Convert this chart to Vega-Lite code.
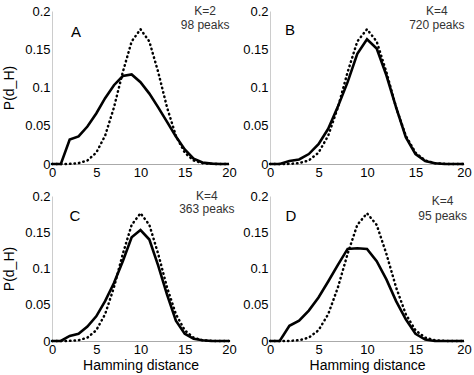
{
  "$schema": "https://vega.github.io/schema/vega-lite/v6.json",
  "autosize": {"type": "pad"},
  "padding": {"left": 2, "top": 5, "right": 5, "bottom": 5},
  "background": "white",
  "datasets": {
    "binom": [
      {"x": 0, "y": 0.000001}, {"x": 1, "y": 0.000019}, {"x": 2, "y": 0.000181}, {"x": 3, "y": 0.001087},
      {"x": 4, "y": 0.004621}, {"x": 5, "y": 0.014786}, {"x": 6, "y": 0.036964}, {"x": 7, "y": 0.073929},
      {"x": 8, "y": 0.120134}, {"x": 9, "y": 0.160179}, {"x": 10, "y": 0.176197}, {"x": 11, "y": 0.160179},
      {"x": 12, "y": 0.120134}, {"x": 13, "y": 0.073929}, {"x": 14, "y": 0.036964}, {"x": 15, "y": 0.014786},
      {"x": 16, "y": 0.004621}, {"x": 17, "y": 0.001087}, {"x": 18, "y": 0.000181}, {"x": 19, "y": 0.000019},
      {"x": 20, "y": 0.000001}
    ],
    "obs": [
      {"panel": "A", "x": 0, "y": 0}, {"panel": "A", "x": 1, "y": 0}, {"panel": "A", "x": 2, "y": 0.032}, {"panel": "A", "x": 3, "y": 0.036},
      {"panel": "A", "x": 4, "y": 0.049}, {"panel": "A", "x": 5, "y": 0.066}, {"panel": "A", "x": 6, "y": 0.086}, {"panel": "A", "x": 7, "y": 0.103},
      {"panel": "A", "x": 8, "y": 0.115}, {"panel": "A", "x": 9, "y": 0.117}, {"panel": "A", "x": 10, "y": 0.107}, {"panel": "A", "x": 11, "y": 0.092},
      {"panel": "A", "x": 12, "y": 0.074}, {"panel": "A", "x": 13, "y": 0.055}, {"panel": "A", "x": 14, "y": 0.036}, {"panel": "A", "x": 15, "y": 0.019},
      {"panel": "A", "x": 16, "y": 0.007}, {"panel": "A", "x": 17, "y": 0.002}, {"panel": "A", "x": 18, "y": 0.0005}, {"panel": "A", "x": 19, "y": 0},
      {"panel": "A", "x": 20, "y": 0},
      {"panel": "B", "x": 0, "y": 0}, {"panel": "B", "x": 1, "y": 0}, {"panel": "B", "x": 2, "y": 0.004}, {"panel": "B", "x": 3, "y": 0.006},
      {"panel": "B", "x": 4, "y": 0.013}, {"panel": "B", "x": 5, "y": 0.026}, {"panel": "B", "x": 6, "y": 0.046}, {"panel": "B", "x": 7, "y": 0.075},
      {"panel": "B", "x": 8, "y": 0.107}, {"panel": "B", "x": 9, "y": 0.144}, {"panel": "B", "x": 10, "y": 0.163}, {"panel": "B", "x": 11, "y": 0.151},
      {"panel": "B", "x": 12, "y": 0.116}, {"panel": "B", "x": 13, "y": 0.074}, {"panel": "B", "x": 14, "y": 0.035}, {"panel": "B", "x": 15, "y": 0.013},
      {"panel": "B", "x": 16, "y": 0.004}, {"panel": "B", "x": 17, "y": 0.001}, {"panel": "B", "x": 18, "y": 0}, {"panel": "B", "x": 19, "y": 0},
      {"panel": "B", "x": 20, "y": 0},
      {"panel": "C", "x": 0, "y": 0}, {"panel": "C", "x": 1, "y": 0}, {"panel": "C", "x": 2, "y": 0.007}, {"panel": "C", "x": 3, "y": 0.01},
      {"panel": "C", "x": 4, "y": 0.02}, {"panel": "C", "x": 5, "y": 0.034}, {"panel": "C", "x": 6, "y": 0.055}, {"panel": "C", "x": 7, "y": 0.08},
      {"panel": "C", "x": 8, "y": 0.11}, {"panel": "C", "x": 9, "y": 0.143}, {"panel": "C", "x": 10, "y": 0.153}, {"panel": "C", "x": 11, "y": 0.14},
      {"panel": "C", "x": 12, "y": 0.104}, {"panel": "C", "x": 13, "y": 0.064}, {"panel": "C", "x": 14, "y": 0.028}, {"panel": "C", "x": 15, "y": 0.01},
      {"panel": "C", "x": 16, "y": 0.003}, {"panel": "C", "x": 17, "y": 0.001}, {"panel": "C", "x": 18, "y": 0}, {"panel": "C", "x": 19, "y": 0},
      {"panel": "C", "x": 20, "y": 0},
      {"panel": "D", "x": 0, "y": 0}, {"panel": "D", "x": 1, "y": 0}, {"panel": "D", "x": 2, "y": 0.021}, {"panel": "D", "x": 3, "y": 0.028},
      {"panel": "D", "x": 4, "y": 0.042}, {"panel": "D", "x": 5, "y": 0.06}, {"panel": "D", "x": 6, "y": 0.082}, {"panel": "D", "x": 7, "y": 0.105},
      {"panel": "D", "x": 8, "y": 0.127}, {"panel": "D", "x": 9, "y": 0.128}, {"panel": "D", "x": 10, "y": 0.127}, {"panel": "D", "x": 11, "y": 0.11},
      {"panel": "D", "x": 12, "y": 0.085}, {"panel": "D", "x": 13, "y": 0.055}, {"panel": "D", "x": 14, "y": 0.03}, {"panel": "D", "x": 15, "y": 0.01},
      {"panel": "D", "x": 16, "y": 0.002}, {"panel": "D", "x": 17, "y": 0}, {"panel": "D", "x": 18, "y": 0}, {"panel": "D", "x": 19, "y": 0},
      {"panel": "D", "x": 20, "y": 0}
    ],
    "notes": [
      {"panel": "A", "kind": "letter", "x": 2.7, "y": 0.1725, "label": "A"},
      {"panel": "A", "kind": "info", "x": 17.3, "y": 0.2, "label": "K=2"},
      {"panel": "A", "kind": "info", "x": 17.3, "y": 0.182, "label": "98 peaks"},
      {"panel": "B", "kind": "letter", "x": 2.06, "y": 0.175, "label": "B"},
      {"panel": "B", "kind": "info", "x": 17.2, "y": 0.2, "label": "K=4"},
      {"panel": "B", "kind": "info", "x": 17.2, "y": 0.182, "label": "720 peaks"},
      {"panel": "C", "kind": "letter", "x": 2.6, "y": 0.172, "label": "C"},
      {"panel": "C", "kind": "info", "x": 17.5, "y": 0.2, "label": "K=4"},
      {"panel": "C", "kind": "info", "x": 17.5, "y": 0.182, "label": "363 peaks"},
      {"panel": "D", "kind": "letter", "x": 2.15, "y": 0.172, "label": "D"},
      {"panel": "D", "kind": "info", "x": 17.8, "y": 0.193, "label": "K=4"},
      {"panel": "D", "kind": "info", "x": 17.8, "y": 0.172, "label": "95 peaks"}
    ]
  },
  "bounds": "flush",
  "columns": 2,
  "spacing": {"row": 32, "column": 41},
  "concat": [
    {
      "width": 177, "height": 153,
      "encoding": {
        "x": {"field": "x", "type": "quantitative", "scale": {"domain": [0, 20], "nice": false}, "axis": {"values": [0, 5, 10, 15, 20], "format": "d", "labelFlush": false, "title": null}},
        "y": {"field": "y", "type": "quantitative", "scale": {"domain": [0, 0.2], "nice": false}, "axis": {"values": [0, 0.05, 0.1, 0.15, 0.2], "format": "~g", "title": "P(d_H)"}}
      },
      "layer": [
        {"data": {"name": "binom"}, "mark": {"type": "line", "color": "black", "strokeWidth": 2.5, "strokeDash": [0.5, 4], "strokeCap": "round"}},
        {"data": {"name": "obs"}, "transform": [{"filter": "datum.panel === 'A'"}], "mark": {"type": "line", "color": "black", "strokeWidth": 2.6}},
        {"data": {"name": "notes"}, "transform": [{"filter": "datum.panel === 'A' && datum.kind === 'letter'"}], "mark": {"type": "text", "fontSize": 15, "color": "black"}, "encoding": {"text": {"field": "label"}}},
        {"data": {"name": "notes"}, "transform": [{"filter": "datum.panel === 'A' && datum.kind === 'info'"}], "mark": {"type": "text", "fontSize": 12, "color": "#333"}, "encoding": {"text": {"field": "label"}}}
      ]
    },
    {
      "width": 194, "height": 153,
      "encoding": {
        "x": {"field": "x", "type": "quantitative", "scale": {"domain": [0, 20], "nice": false}, "axis": {"values": [0, 5, 10, 15, 20], "format": "d", "labelFlush": false, "title": null}},
        "y": {"field": "y", "type": "quantitative", "scale": {"domain": [0, 0.2], "nice": false}, "axis": {"values": [0, 0.05, 0.1, 0.15, 0.2], "format": "~g", "title": null}}
      },
      "layer": [
        {"data": {"name": "binom"}, "mark": {"type": "line", "color": "black", "strokeWidth": 2.5, "strokeDash": [0.5, 4], "strokeCap": "round"}},
        {"data": {"name": "obs"}, "transform": [{"filter": "datum.panel === 'B'"}], "mark": {"type": "line", "color": "black", "strokeWidth": 2.6}},
        {"data": {"name": "notes"}, "transform": [{"filter": "datum.panel === 'B' && datum.kind === 'letter'"}], "mark": {"type": "text", "fontSize": 15, "color": "black"}, "encoding": {"text": {"field": "label"}}},
        {"data": {"name": "notes"}, "transform": [{"filter": "datum.panel === 'B' && datum.kind === 'info'"}], "mark": {"type": "text", "fontSize": 12, "color": "#333"}, "encoding": {"text": {"field": "label"}}}
      ]
    },
    {
      "width": 177, "height": 145,
      "encoding": {
        "x": {"field": "x", "type": "quantitative", "scale": {"domain": [0, 20], "nice": false}, "axis": {"values": [0, 5, 10, 15, 20], "format": "d", "labelFlush": false, "title": "Hamming distance"}},
        "y": {"field": "y", "type": "quantitative", "scale": {"domain": [0, 0.2], "nice": false}, "axis": {"values": [0, 0.05, 0.1, 0.15, 0.2], "format": "~g", "title": "P(d_H)"}}
      },
      "layer": [
        {"data": {"name": "binom"}, "mark": {"type": "line", "color": "black", "strokeWidth": 2.5, "strokeDash": [0.5, 4], "strokeCap": "round"}},
        {"data": {"name": "obs"}, "transform": [{"filter": "datum.panel === 'C'"}], "mark": {"type": "line", "color": "black", "strokeWidth": 2.6}},
        {"data": {"name": "notes"}, "transform": [{"filter": "datum.panel === 'C' && datum.kind === 'letter'"}], "mark": {"type": "text", "fontSize": 15, "color": "black"}, "encoding": {"text": {"field": "label"}}},
        {"data": {"name": "notes"}, "transform": [{"filter": "datum.panel === 'C' && datum.kind === 'info'"}], "mark": {"type": "text", "fontSize": 12, "color": "#333"}, "encoding": {"text": {"field": "label"}}}
      ]
    },
    {
      "width": 194, "height": 145,
      "encoding": {
        "x": {"field": "x", "type": "quantitative", "scale": {"domain": [0, 20], "nice": false}, "axis": {"values": [0, 5, 10, 15, 20], "format": "d", "labelFlush": false, "title": "Hamming distance"}},
        "y": {"field": "y", "type": "quantitative", "scale": {"domain": [0, 0.2], "nice": false}, "axis": {"values": [0, 0.05, 0.1, 0.15, 0.2], "format": "~g", "title": null}}
      },
      "layer": [
        {"data": {"name": "binom"}, "mark": {"type": "line", "color": "black", "strokeWidth": 2.5, "strokeDash": [0.5, 4], "strokeCap": "round"}},
        {"data": {"name": "obs"}, "transform": [{"filter": "datum.panel === 'D'"}], "mark": {"type": "line", "color": "black", "strokeWidth": 2.6}},
        {"data": {"name": "notes"}, "transform": [{"filter": "datum.panel === 'D' && datum.kind === 'letter'"}], "mark": {"type": "text", "fontSize": 15, "color": "black"}, "encoding": {"text": {"field": "label"}}},
        {"data": {"name": "notes"}, "transform": [{"filter": "datum.panel === 'D' && datum.kind === 'info'"}], "mark": {"type": "text", "fontSize": 12, "color": "#333"}, "encoding": {"text": {"field": "label"}}}
      ]
    }
  ],
  "config": {
    "font": "Liberation Sans",
    "view": {"stroke": null},
    "axis": {
      "grid": false,
      "ticks": false,
      "labelFont": "Liberation Sans",
      "labelFontSize": 13,
      "labelColor": "black",
      "labelPadding": 2,
      "titleFont": "Liberation Sans",
      "titleFontSize": 14,
      "titleFontWeight": "normal",
      "titleColor": "black",
      "titlePadding": 2,
      "domainColor": "#bbbbbb",
      "domainWidth": 1
    },
    "axisX": {"domainColor": "#aaaaaa"},
    "axisY": {"titlePadding": 8, "domainColor": "#cccccc"},
    "text": {"font": "Liberation Sans"}
  }
}
